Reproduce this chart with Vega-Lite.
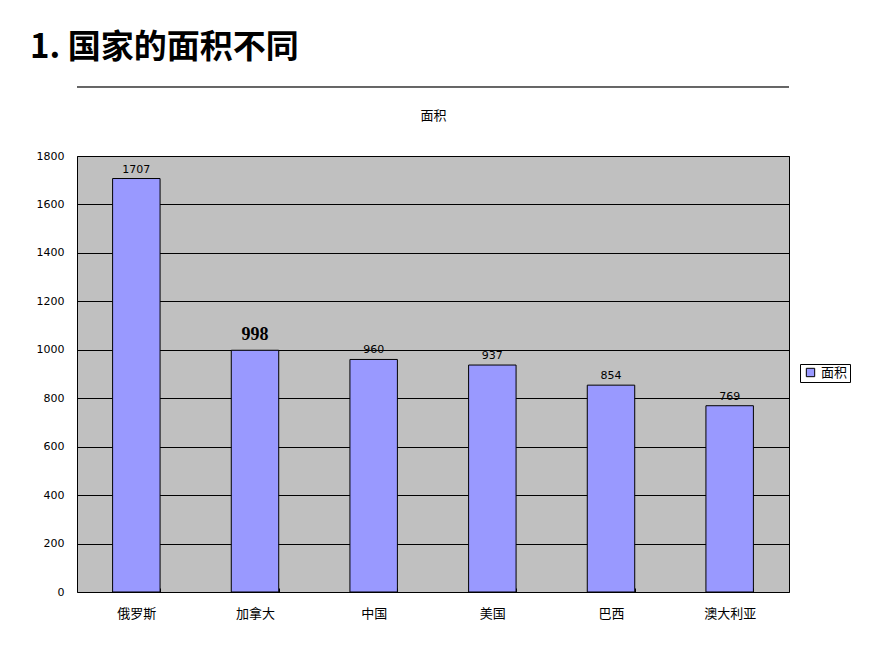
{
  "$schema": "https://vega.github.io/schema/vega-lite/v6.json",
  "width": 712,
  "height": 436,
  "autosize": {"type": "none"},
  "padding": {"left": 77, "top": 156, "right": 81, "bottom": 61},
  "background": "white",
  "title": {
    "text": "1. 国家的面积不同",
    "anchor": "start",
    "frame": "group",
    "dx": -47,
    "offset": 21,
    "font": "Noto Sans CJK SC",
    "fontSize": 33,
    "fontWeight": "bold",
    "color": "black"
  },
  "config": {
    "view": {"fill": "#c0c0c0", "stroke": "black", "strokeWidth": 1},
    "font": "Noto Sans CJK SC"
  },
  "data": {
    "values": [
      {"country": "俄罗斯", "area": 1707},
      {"country": "加拿大", "area": 998},
      {"country": "中国", "area": 960},
      {"country": "美国", "area": 937},
      {"country": "巴西", "area": 854},
      {"country": "澳大利亚", "area": 769}
    ]
  },
  "resolve": {"axis": {"x": "independent"}},
  "layer": [
    {
      "mark": {"type": "rule", "color": "#666666", "strokeWidth": 1.2},
      "encoding": {
        "y": {"datum": 2085, "type": "quantitative", "scale": {"domain": [0, 1800]}}
      }
    },
    {
      "mark": {"type": "bar", "stroke": "black", "strokeWidth": 1},
      "encoding": {
        "x": {
          "field": "country", "type": "nominal", "sort": null,
          "scale": {"paddingInner": 0.6, "paddingOuter": 0.3},
          "axis": {
            "title": null, "labelAngle": 0, "labelFontSize": 13, "labelColor": "black",
            "labelFont": "Noto Sans CJK SC", "labelPadding": 19,
            "domain": false, "ticks": true, "tickBand": "extent", "tickSize": -4,
            "tickColor": "black"
          }
        },
        "y": {
          "field": "area", "type": "quantitative",
          "scale": {"domain": [0, 1800], "nice": false},
          "axis": {
            "title": null, "values": [0, 200, 400, 600, 800, 1000, 1200, 1400, 1600, 1800],
            "format": "d",
            "grid": true, "gridColor": "black", "gridWidth": 1, "gridOpacity": 1,
            "domain": false, "ticks": false, "labelPadding": 13,
            "labelFontSize": 11, "labelColor": "black", "labelFont": "DejaVu Sans"
          }
        },
        "color": {
          "datum": "面积",
          "type": "nominal",
          "scale": {"range": ["#9999ff"]},
          "legend": {
            "title": null, "orient": "none", "legendX": 723, "legendY": 208,
            "symbolType": "square", "symbolSize": 70, "symbolStrokeColor": "black",
            "symbolStrokeWidth": 1, "labelFontSize": 13, "labelColor": "black",
            "labelFont": "Noto Sans CJK SC",
            "strokeColor": "black", "padding": 2, "symbolOffset": 2
          }
        }
      }
    },
    {
      "transform": [{"filter": "datum.country !== '加拿大'"}],
      "mark": {"type": "text", "baseline": "bottom", "dy": -4, "font": "DejaVu Sans", "fontSize": 11, "color": "black"},
      "encoding": {
        "x": {
          "field": "country", "type": "nominal", "sort": null,
          "axis": {
            "orient": "top", "title": "面积", "labels": false, "ticks": false, "domain": false,
            "titleFontSize": 13, "titleFontWeight": "normal", "titleColor": "black",
            "titleFont": "Noto Sans CJK SC", "titlePadding": 34
          }
        },
        "y": {"field": "area", "type": "quantitative"},
        "text": {"field": "area", "type": "quantitative"}
      }
    },
    {
      "transform": [{"filter": "datum.country === '加拿大'"}],
      "mark": {"type": "text", "baseline": "bottom", "dy": -6, "font": "Liberation Serif", "fontSize": 18, "fontWeight": "bold", "color": "black"},
      "encoding": {
        "x": {"field": "country", "type": "nominal", "sort": null, "axis": null},
        "y": {"field": "area", "type": "quantitative"},
        "text": {"field": "area", "type": "quantitative"}
      }
    }
  ]
}
